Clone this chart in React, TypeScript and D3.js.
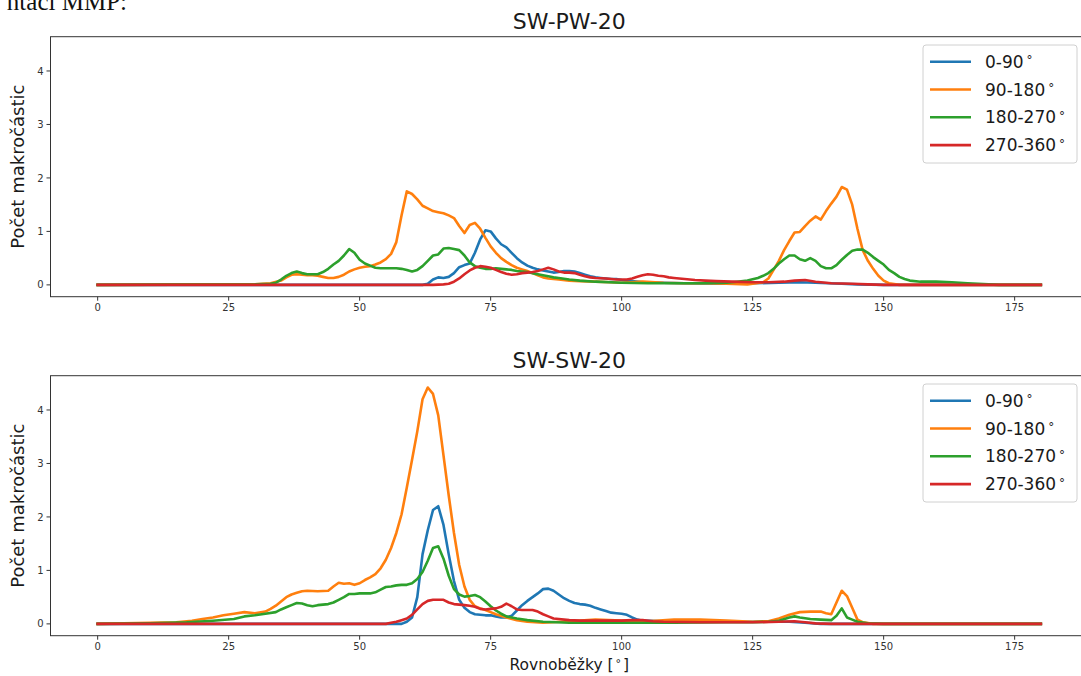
import * as d3 from "d3";

type Pt = [number, number];

// x ticks / y ticks shared by both panels
const xTicks = [0, 25, 50, 75, 100, 125, 150, 175];
const yTicks = [0, 1, 2, 3, 4];
const seriesNames = ["0-90", "90-180", "180-270", "270-360"];
const colors = ["#1f77b4", "#ff7f0e", "#2ca02c", "#d62728"];

// SW-PW-20 ([latitude, count])
const pwBlue: Pt[] = [[0,0],[62,0],[63,0.02],[64,0.1],[65,0.14],[66,0.13],[67,0.15],[68,0.22],[69,0.33],[70,0.37],[71,0.4],[72,0.6],[73,0.85],[74,1.02],[75,1.0],[76,0.87],[77,0.76],[78,0.7],[79,0.6],[80,0.5],[81,0.42],[82,0.36],[83,0.32],[84,0.29],[85,0.27],[86,0.25],[87,0.23],[88,0.24],[89,0.26],[90,0.26],[91,0.25],[92,0.22],[93,0.19],[94,0.16],[95,0.14],[96,0.13],[97,0.12],[98,0.11],[99,0.11],[100,0.09],[102,0.07],[104,0.05],[108,0.04],[112,0.03],[120,0.02],[125,0.03],[130,0.04],[134,0.05],[137,0.04],[142,0.02],[145,0.01],[150,0],[180,0]];
const pwOrange: Pt[] = [[0,0],[20,0.01],[30,0.01],[33,0.03],[35,0.08],[36,0.14],[37,0.19],[38,0.2],[39,0.19],[40,0.18],[41,0.18],[42,0.17],[43,0.15],[44,0.13],[45,0.13],[46,0.15],[47,0.19],[48,0.25],[49,0.29],[50,0.32],[51,0.34],[52,0.35],[53,0.38],[54,0.42],[55,0.48],[56,0.58],[57,0.8],[58,1.3],[59,1.75],[60,1.7],[61,1.6],[62,1.48],[63,1.43],[64,1.38],[65,1.36],[66,1.34],[67,1.3],[68,1.25],[69,1.1],[70,0.97],[71,1.12],[72,1.16],[73,1.05],[74,0.88],[75,0.72],[76,0.6],[77,0.5],[78,0.43],[79,0.37],[80,0.32],[81,0.29],[82,0.26],[83,0.22],[84,0.18],[85,0.14],[86,0.12],[88,0.1],[90,0.08],[92,0.07],[95,0.06],[98,0.05],[100,0.04],[104,0.06],[108,0.04],[112,0.03],[116,0.03],[120,0.02],[124,0.01],[127,0.05],[128,0.12],[129,0.28],[130,0.45],[131,0.65],[132,0.82],[133,0.98],[134,0.99],[135,1.1],[136,1.2],[137,1.28],[138,1.22],[139,1.38],[140,1.52],[141,1.65],[142,1.83],[143,1.78],[144,1.5],[145,1.05],[146,0.65],[147,0.45],[148,0.3],[149,0.17],[150,0.08],[151,0.03],[153,0],[180,0]];
const pwGreen: Pt[] = [[0,0],[30,0.01],[33,0.02],[34,0.04],[35,0.1],[36,0.17],[37,0.22],[38,0.25],[39,0.22],[40,0.2],[41,0.2],[42,0.2],[43,0.24],[44,0.3],[45,0.38],[46,0.45],[47,0.55],[48,0.67],[49,0.6],[50,0.47],[51,0.4],[52,0.36],[53,0.32],[54,0.31],[55,0.31],[56,0.31],[57,0.31],[58,0.3],[59,0.28],[60,0.25],[61,0.28],[62,0.35],[63,0.45],[64,0.55],[65,0.57],[66,0.68],[67,0.69],[68,0.67],[69,0.65],[70,0.55],[71,0.42],[72,0.35],[73,0.32],[74,0.3],[75,0.3],[76,0.31],[77,0.3],[78,0.29],[79,0.28],[80,0.26],[81,0.25],[82,0.24],[83,0.22],[84,0.2],[85,0.18],[86,0.16],[87,0.14],[88,0.13],[90,0.1],[92,0.08],[95,0.06],[100,0.04],[105,0.03],[110,0.03],[115,0.03],[120,0.04],[122,0.06],[124,0.08],[126,0.13],[127,0.17],[128,0.22],[129,0.3],[130,0.4],[131,0.48],[132,0.55],[133,0.55],[134,0.48],[135,0.45],[136,0.5],[137,0.45],[138,0.35],[139,0.31],[140,0.31],[141,0.37],[142,0.47],[143,0.56],[144,0.64],[145,0.66],[146,0.66],[147,0.6],[148,0.52],[149,0.45],[150,0.38],[151,0.28],[152,0.22],[153,0.15],[154,0.11],[155,0.08],[157,0.06],[160,0.06],[163,0.05],[166,0.03],[170,0.01],[172,0],[180,0]];
const pwRed: Pt[] = [[0,0],[64,0],[66,0.01],[67,0.02],[68,0.06],[69,0.12],[70,0.2],[71,0.27],[72,0.32],[73,0.35],[74,0.34],[75,0.32],[76,0.28],[77,0.24],[78,0.21],[79,0.19],[80,0.2],[81,0.22],[82,0.23],[83,0.24],[84,0.26],[85,0.29],[86,0.32],[87,0.29],[88,0.25],[89,0.23],[90,0.23],[91,0.22],[92,0.19],[93,0.16],[94,0.14],[95,0.13],[97,0.12],[99,0.1],[101,0.1],[102,0.12],[103,0.15],[104,0.18],[105,0.2],[106,0.19],[107,0.17],[108,0.16],[109,0.14],[110,0.13],[112,0.11],[114,0.09],[116,0.08],[118,0.07],[121,0.06],[125,0.05],[128,0.05],[131,0.06],[133,0.08],[135,0.09],[137,0.06],[140,0.03],[144,0.02],[147,0.01],[150,0],[180,0]];

// SW-SW-20
const swBlue: Pt[] = [[0,0],[58,0],[59,0.04],[60,0.12],[61,0.5],[62,1.3],[63,1.75],[64,2.13],[65,2.2],[66,1.85],[67,1.3],[68,0.8],[69,0.45],[70,0.3],[71,0.22],[72,0.18],[73,0.17],[74,0.16],[75,0.16],[76,0.14],[77,0.12],[78,0.12],[79,0.15],[80,0.25],[81,0.35],[82,0.43],[83,0.5],[84,0.57],[85,0.65],[86,0.66],[87,0.62],[88,0.55],[89,0.48],[90,0.43],[91,0.39],[92,0.37],[93,0.36],[94,0.34],[95,0.3],[96,0.27],[97,0.24],[98,0.21],[99,0.2],[100,0.19],[101,0.17],[102,0.12],[103,0.08],[104,0.06],[108,0.05],[115,0.04],[125,0.04],[132,0.04],[135,0.02],[138,0],[180,0]];
const swOrange: Pt[] = [[0,0],[5,0.01],[10,0.02],[15,0.03],[18,0.06],[20,0.09],[22,0.12],[24,0.16],[26,0.19],[28,0.22],[30,0.2],[32,0.23],[33,0.28],[34,0.34],[35,0.42],[36,0.5],[37,0.55],[38,0.58],[39,0.61],[40,0.62],[42,0.61],[44,0.62],[45,0.7],[46,0.77],[47,0.75],[48,0.76],[49,0.73],[50,0.76],[51,0.82],[52,0.87],[53,0.93],[54,1.04],[55,1.2],[56,1.42],[57,1.7],[58,2.05],[59,2.55],[60,3.07],[61,3.6],[62,4.2],[63,4.42],[64,4.3],[65,3.9],[66,3.15],[67,2.4],[68,1.7],[69,1.1],[70,0.7],[71,0.45],[72,0.33],[73,0.29],[74,0.26],[75,0.22],[76,0.18],[78,0.12],[80,0.07],[82,0.04],[85,0.02],[90,0.05],[95,0.08],[100,0.06],[105,0.05],[110,0.08],[115,0.08],[120,0.06],[125,0.04],[128,0.05],[130,0.1],[132,0.17],[134,0.22],[136,0.23],[138,0.23],[139,0.2],[140,0.18],[141,0.4],[142,0.62],[143,0.52],[144,0.3],[145,0.08],[146,0.03],[148,0],[180,0]];
const swGreen: Pt[] = [[0,0],[10,0.01],[17,0.03],[22,0.06],[26,0.09],[28,0.14],[30,0.16],[32,0.19],[34,0.22],[35,0.27],[36,0.31],[37,0.35],[38,0.39],[39,0.38],[40,0.35],[41,0.33],[42,0.35],[44,0.37],[45,0.4],[46,0.45],[47,0.5],[48,0.56],[49,0.56],[50,0.57],[51,0.57],[52,0.57],[53,0.59],[54,0.64],[55,0.69],[56,0.7],[57,0.72],[58,0.73],[59,0.73],[60,0.76],[61,0.84],[62,0.97],[63,1.18],[64,1.42],[65,1.45],[66,1.22],[67,0.9],[68,0.65],[69,0.55],[70,0.51],[71,0.52],[72,0.54],[73,0.5],[74,0.42],[75,0.33],[76,0.25],[77,0.19],[78,0.14],[80,0.1],[82,0.07],[85,0.04],[90,0.02],[100,0.02],[110,0.02],[120,0.03],[125,0.03],[128,0.04],[130,0.06],[132,0.12],[133,0.14],[134,0.12],[136,0.09],[138,0.08],[140,0.07],[141,0.15],[142,0.29],[143,0.12],[144,0.08],[145,0.04],[147,0.01],[150,0],[180,0]];
const swRed: Pt[] = [[0,0],[55,0],[56,0.02],[57,0.04],[58,0.07],[59,0.1],[60,0.17],[61,0.27],[62,0.37],[63,0.43],[64,0.45],[65,0.45],[66,0.45],[67,0.4],[68,0.37],[69,0.36],[70,0.35],[71,0.34],[72,0.32],[73,0.28],[74,0.27],[75,0.28],[76,0.29],[77,0.32],[78,0.38],[79,0.33],[80,0.27],[81,0.26],[82,0.26],[83,0.26],[84,0.23],[85,0.18],[86,0.14],[87,0.1],[88,0.09],[90,0.07],[92,0.06],[95,0.06],[100,0.06],[102,0.07],[104,0.07],[106,0.05],[108,0.04],[115,0.03],[125,0.03],[130,0.04],[133,0.05],[135,0.03],[137,0.01],[140,0],[180,0]];

const panels = [
  { title: "SW-PW-20", top: 36.7, series: [pwBlue, pwOrange, pwGreen, pwRed] },
  { title: "SW-SW-20", top: 375.7, series: [swBlue, swOrange, swGreen, swRed] },
];

const W = 1081;
const H = 676;
const left = 50.5;
const right = 1088;
const ph = 260;
const font = "DejaVu Sans, sans-serif";

const x = d3.scaleLinear().domain([-9, 189]).range([left, right]);

function Panel({ title, top, series }: { title: string; top: number; series: Pt[][] }) {
  const y = d3.scaleLinear().domain([-0.221, 4.641]).range([top + ph, top]);
  const line = d3.line<Pt>().x(d => x(d[0])).y(d => y(d[1]));
  const bottom = top + ph;
  const lgTop = top + 8.3;
  return (
    <g>
      <text x={(left + right) / 2} y={top - 8} textAnchor="middle" fontSize={22} fontFamily={font} fill="#1a1a1a">{title}</text>
      {xTicks.map(t => (
        <g key={"x" + t}>
          <line x1={x(t)} x2={x(t)} y1={bottom} y2={bottom + 4} stroke="#333" />
          <text x={x(t)} y={bottom + 14.5} textAnchor="middle" fontSize={10} fontFamily={font} fill="#333">{t}</text>
        </g>
      ))}
      {yTicks.map(t => (
        <g key={"y" + t}>
          <line x1={left - 4} x2={left} y1={y(t)} y2={y(t)} stroke="#333" />
          <text x={left - 7} y={y(t) + 3.6} textAnchor="end" fontSize={10} fontFamily={font} fill="#333">{t}</text>
        </g>
      ))}
      <text transform={`translate(24,${(top + bottom) / 2}) rotate(-90)`} textAnchor="middle" fontSize={18} fontFamily={font} fill="#1a1a1a">Počet makročástic</text>
      {series.map((s, i) => (
        <path key={i} d={line(s) || ""} fill="none" stroke={colors[i]} strokeWidth={2.6} strokeLinejoin="round" strokeLinecap="square" />
      ))}
      <rect x={left} y={top} width={right - left} height={ph} fill="none" stroke="#333" strokeWidth={1} />
      <rect x={923} y={lgTop} width={154} height={118} rx={3} fill="#fff" fillOpacity={0.8} stroke="#d0d0d0" />
      {seriesNames.map((n, i) => {
        const ry = top + 25 + i * 27.8;
        return (
          <g key={n}>
            <line x1={930} x2={971} y1={ry} y2={ry} stroke={colors[i]} strokeWidth={2.6} />
            <text x={985} y={ry + 6} fontSize={17} fontFamily={font} fill="#1a1a1a">
              {n}
              <tspan dx={3} dy={-3.5} fontSize={12}>°</tspan>
            </text>
          </g>
        );
      })}
    </g>
  );
}

export default function App() {
  return (
    <svg width={W} height={H} style={{ position: "absolute", left: 0, top: 0, background: "#fff" }}>
      <text x={127} y={9.5} textAnchor="end" fontSize={25} fontFamily="Liberation Serif, serif" fill="#111">ntaci MMP:</text>
      {panels.map(p => (
        <Panel key={p.title} {...p} />
      ))}
      <text x={(left + right) / 2} y={670} textAnchor="middle" fontSize={15.5} fontFamily={font} fill="#1a1a1a">
        Rovnoběžky [
        <tspan dx={2} dy={-3} fontSize={11}>°</tspan>
        <tspan dx={2} dy={3}>]</tspan>
      </text>
    </svg>
  );
}
